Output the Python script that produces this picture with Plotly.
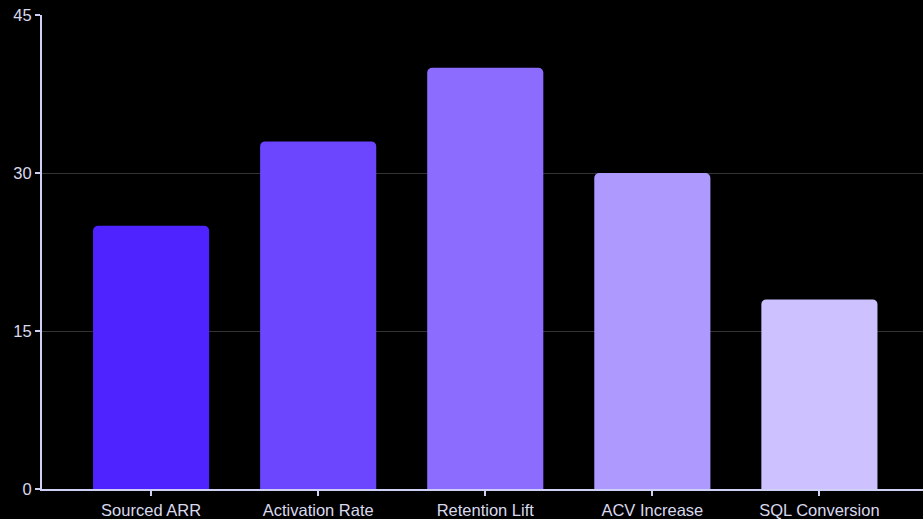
import plotly.graph_objects as go

categories = ["Sourced ARR", "Activation Rate", "Retention Lift", "ACV Increase", "SQL Conversion"]
values = [25, 33, 40, 30, 18]
colors = ["#4f23ff", "#6c45ff", "#8c6bff", "#ae99ff", "#cdc2ff"]
y_ticks = [0, 15, 30, 45]

fig = go.Figure(go.Bar(x=categories, y=values, width=0.695,
                       marker=dict(color=colors, line=dict(width=0))))

axis_col = "#cfd0f5"
fig.update_layout(
    width=923, height=519,
    margin=dict(l=42, r=0, t=15, b=30),
    paper_bgcolor="#000000", plot_bgcolor="#000000",
    barcornerradius=5,
    showlegend=False,
    font=dict(family="Liberation Sans, Arial, sans-serif", size=16.5, color="#d8d9ec"),
    xaxis=dict(range=[-0.653, 4.62], showline=True, linecolor=axis_col, linewidth=2,
               ticks="outside", ticklen=5, tickcolor=axis_col, tickwidth=2, showgrid=False),
    yaxis=dict(range=[0, 45], tickvals=y_ticks, showline=True, linecolor=axis_col, linewidth=2,
               ticks="outside", ticklen=5, tickcolor=axis_col, tickwidth=2,
               gridcolor="#333333", gridwidth=1, zeroline=False),
)
fig.write_html("out.html")
